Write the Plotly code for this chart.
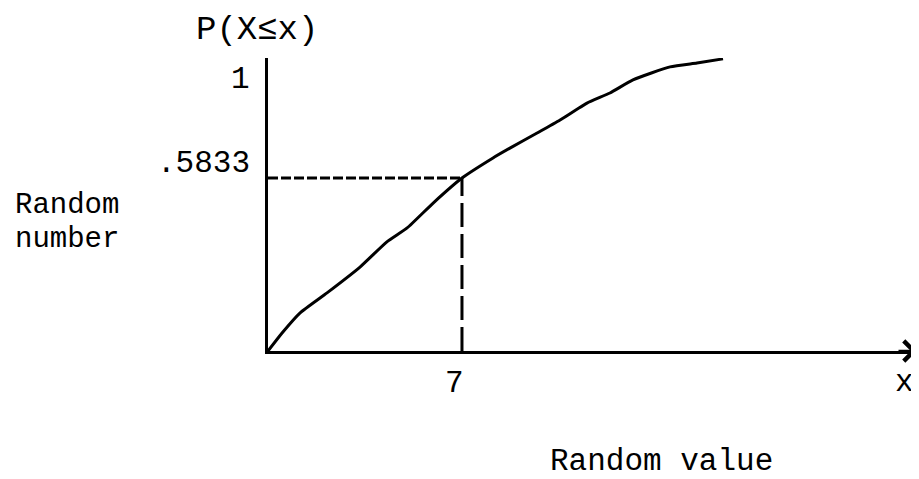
import plotly.graph_objects as go

# Data (x: random value, y: P(X <= x))
cdf_x = [0, 0.5, 1.15, 2.13, 3.32, 4.29, 5.02, 5.96, 7.0, 8.12, 8.73, 9.71,
         10.54, 11.51, 12.34, 13.17, 14.51, 15.48, 16.42]
cdf_y = [0, 0.06, 0.128, 0.196, 0.283, 0.368, 0.415, 0.499, 0.5833, 0.651,
         0.684, 0.735, 0.779, 0.836, 0.870, 0.914, 0.958, 0.971, 0.985]

x_value = 7
p_value = 0.5833
y_tick_labels = [".5833", "1"]
y_tick_vals = [0.5833, 1]
x_tick_label = "7"

FONT = "Liberation Mono, Courier New, monospace"
FS = 31
TXT = dict(family=FONT, size=FS, color="black")

fig = go.Figure()

# CDF curve
fig.add_trace(go.Scatter(x=cdf_x, y=cdf_y, mode="lines",
                         line=dict(color="black", width=3, shape="spline", smoothing=0.5),
                         hoverinfo="skip", showlegend=False))
# horizontal dashed line at p_value
fig.add_trace(go.Scatter(x=[0, x_value], y=[p_value, p_value], mode="lines",
                         line=dict(color="black", width=3, dash="10px,3px"),
                         hoverinfo="skip", showlegend=False))
# vertical dashed line at x_value
fig.add_trace(go.Scatter(x=[x_value, x_value], y=[0, p_value], mode="lines",
                         line=dict(color="black", width=3, dash="24px,7px"),
                         hoverinfo="skip", showlegend=False))

X_MAX = 23.42
Y_MAX = 0.988

annotations = [
    # arrow head at end of x axis
    dict(x=1.0, y=0, xref="paper", yref="paper", ax=-20, ay=0,
         showarrow=True, arrowhead=4, arrowsize=1.5, arrowwidth=2.6, arrowcolor="black", text=""),
    # y-axis title at top
    dict(x=-0.017, y=1.0956, xref="paper", yref="paper", text="P(X≤x)", showarrow=False,
         font=dict(family=FONT, size=34, color="black"), xanchor="center", yanchor="middle"),
    # y tick labels
    dict(x=0, y=0.925, xref="paper", yref="paper", text=y_tick_labels[1], showarrow=False,
         font=TXT, xanchor="right", yanchor="middle", xshift=-16),
    dict(x=0, y=y_tick_vals[0], xref="x", yref="y", text=y_tick_labels[0], showarrow=False,
         font=TXT, xanchor="right", yanchor="middle", xshift=-16, yshift=15),
    # x tick label
    dict(x=x_value, y=0, xref="x", yref="y", text=x_tick_label, showarrow=False,
         font=TXT, xanchor="center", yanchor="middle", xshift=-7, yshift=-32),
    # x axis symbol
    dict(x=1.0, y=-0.1092, xref="paper", yref="paper", text="x", showarrow=False,
         font=TXT, xanchor="right", yanchor="middle", xshift=-1),
    # side label (two typed lines)
    dict(x=-0.3929, y=0.4386, xref="paper", yref="paper",
         text="<span style='font-size:29px'>Random</span><br><span style='font-size:29px'>number</span>",
         showarrow=False, align="left",
         font=dict(family=FONT, size=26, color="black"), xanchor="left", yanchor="middle"),
    # bottom label
    dict(x=0.6056, y=-0.3788, xref="paper", yref="paper", text="Random value", showarrow=False,
         font=TXT, xanchor="center", yanchor="middle"),
]

fig.update_layout(
    width=911, height=471,
    margin=dict(l=260, r=2, t=50, b=128),
    paper_bgcolor="white", plot_bgcolor="white",
    showlegend=False,
    annotations=annotations,
    xaxis=dict(range=[0, X_MAX], showline=True, linecolor="black", linewidth=3,
               showgrid=False, zeroline=False, showticklabels=False, ticks=""),
    yaxis=dict(range=[0, Y_MAX], showline=True, linecolor="black", linewidth=3,
               showgrid=False, zeroline=False, showticklabels=False, ticks=""),
)

fig.write_html("out.html", config={"displayModeBar": False})
